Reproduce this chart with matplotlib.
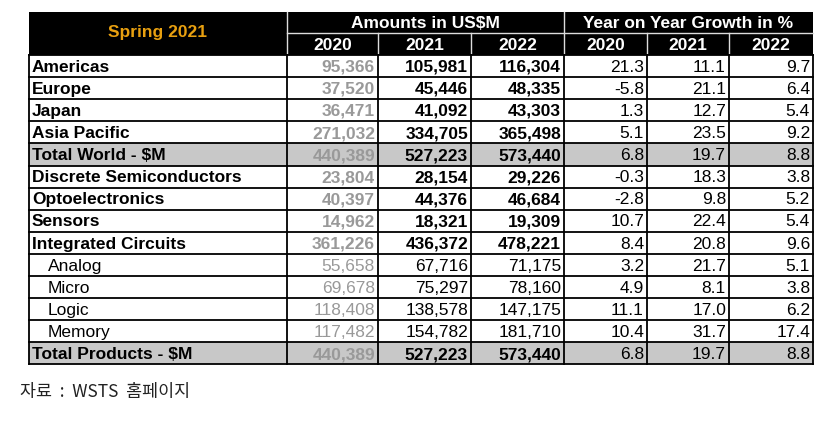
import matplotlib.pyplot as plt
from matplotlib.patches import Rectangle

plt.rcParams['font.family'] = ['Liberation Sans', 'DejaVu Sans']

# 표 데이터
labels = ['Americas', 'Europe', 'Japan', 'Asia Pacific', 'Total World - $M',
          'Discrete Semiconductors', 'Optoelectronics', 'Sensors', 'Integrated Circuits',
          'Analog', 'Micro', 'Logic', 'Memory', 'Total Products - $M']
row_kind = ['main', 'main', 'main', 'main', 'total',
            'main', 'main', 'main', 'main',
            'sub', 'sub', 'sub', 'sub', 'total']
amt_2020 = [95366, 37520, 36471, 271032, 440389, 23804, 40397, 14962, 361226,
            55658, 69678, 118408, 117482, 440389]
amt_2021 = [105981, 45446, 41092, 334705, 527223, 28154, 44376, 18321, 436372,
            67716, 75297, 138578, 154782, 527223]
amt_2022 = [116304, 48335, 43303, 365498, 573440, 29226, 46684, 19309, 478221,
            71175, 78160, 147175, 181710, 573440]
gr_2020 = [21.3, -5.8, 1.3, 5.1, 6.8, -0.3, -2.8, 10.7, 8.4, 3.2, 4.9, 11.1, 10.4, 6.8]
gr_2021 = [11.1, 21.1, 12.7, 23.5, 19.7, 18.3, 9.8, 22.4, 20.8, 21.7, 8.1, 17.0, 31.7, 19.7]
gr_2022 = [9.7, 6.4, 5.4, 9.2, 8.8, 3.8, 5.2, 5.4, 9.6, 5.1, 3.8, 6.2, 17.4, 8.8]
years = ['2020', '2021', '2022']

# 레이아웃 (픽셀 단위)
col_x = [29, 287, 378, 471, 564, 647, 729, 813]
top, mid, head_bot = 12, 33, 55
row_h = 22.1
fs = 12.5

fig = plt.figure(figsize=(8.32, 4.28), dpi=100)
ax = fig.add_axes([0, 0, 1, 1])
ax.set_xlim(0, 832)
ax.set_ylim(428, 0)
ax.axis('off')

# 헤더
ax.add_patch(Rectangle((col_x[0], top), col_x[-1] - col_x[0], head_bot - top,
                       facecolor='black', edgecolor='none'))
ax.plot([col_x[1], col_x[1]], [top, head_bot], color='#dddddd', lw=1)
ax.plot([col_x[4], col_x[4]], [top, head_bot], color='#dddddd', lw=1)
ax.plot([col_x[1], col_x[-1]], [mid, mid], color='#dddddd', lw=1)
for cx in [col_x[2], col_x[3], col_x[5], col_x[6]]:
    ax.plot([cx, cx], [mid, head_bot], color='#dddddd', lw=1)

ax.text((col_x[0] + col_x[1]) / 2, (top + head_bot) / 2 - 1, 'Spring 2021',
        color='#E8A010', fontsize=fs, fontweight='bold', ha='center', va='center')
ax.text((col_x[1] + col_x[4]) / 2, (top + mid) / 2 + 0.5, 'Amounts in US$M',
        color='white', fontsize=fs, fontweight='bold', ha='center', va='center')
ax.text((col_x[4] + col_x[7]) / 2, (top + mid) / 2 + 0.5, 'Year on Year Growth in %',
        color='white', fontsize=fs, fontweight='bold', ha='center', va='center')
for i in range(6):
    ax.text((col_x[i + 1] + col_x[i + 2]) / 2, (mid + head_bot) / 2 + 1, years[i % 3],
            color='white', fontsize=fs, fontweight='bold', ha='center', va='center')

# 데이터 행
pad = 3
for r, lab in enumerate(labels):
    y0 = head_bot + r * row_h
    yc = y0 + row_h / 2 + 1.2
    kind = row_kind[r]
    if kind == 'total':
        ax.add_patch(Rectangle((col_x[0], y0), col_x[-1] - col_x[0], row_h,
                               facecolor='#c8c8c8', edgecolor='none'))
    bold = 'bold' if kind != 'sub' else 'normal'
    lx = col_x[0] + 3 if kind != 'sub' else col_x[0] + 19
    ax.text(lx, yc, lab, fontsize=fs, fontweight=bold, ha='left', va='center', color='black')
    vals = [f'{amt_2020[r]:,}', f'{amt_2021[r]:,}', f'{amt_2022[r]:,}',
            f'{gr_2020[r]:.1f}', f'{gr_2021[r]:.1f}', f'{gr_2022[r]:.1f}']
    for c, v in enumerate(vals):
        color = '#999999' if c == 0 else 'black'
        weight = bold if c in (0, 1, 2) else 'normal'
        ax.text(col_x[c + 2] - pad, yc, v, fontsize=fs, fontweight=weight,
                ha='right', va='center', color=color)

# 격자선
bottom = head_bot + len(labels) * row_h
for r in range(len(labels) + 1):
    y = head_bot + r * row_h
    ax.plot([col_x[0], col_x[-1]], [y, y], color='black', lw=1.3)
for cx in col_x:
    ax.plot([cx, cx], [head_bot, bottom], color='black', lw=1.3)

ax.text(20, 392, '자료  :  WSTS  홈페이지', fontsize=12.5, ha='left', va='center',
        color='#222222', family=['Noto Sans CJK KR', 'DejaVu Sans'])

fig.savefig('out.png', dpi=100)
